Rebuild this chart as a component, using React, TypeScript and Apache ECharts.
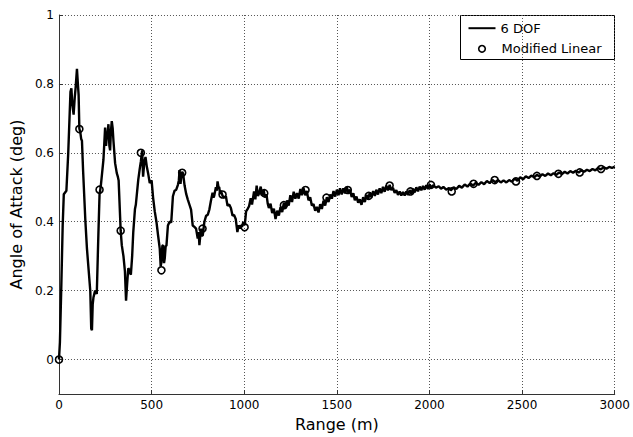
import React, { useEffect, useRef } from "react";
import * as echarts from "echarts";

// Range (m) / angle of attack (deg)
const dofRange: number[] = [
  0, 5, 12, 20, 26, 40, 50, 62, 67, 72, 79, 85, 90, 97, 102, 106, 110, 115, 120, 124, 130, 142, 151, 160, 169, 174, 178, 182, 186, 195,
  204, 213, 219, 225, 240, 249, 254, 258, 263, 267, 272, 276, 280, 285, 290, 294, 303, 312, 318, 322, 333, 339, 348, 356, 362, 368, 374, 380, 388, 395,
  401, 410, 415, 428, 435, 442, 449, 454, 460, 467, 474, 481, 490, 500, 508, 517, 526, 535, 544, 549, 553, 558, 562, 567, 571, 576, 580, 588, 597, 606,
  615, 624, 633, 642, 647, 651, 656, 660, 665, 670, 678, 687, 695, 704, 713, 722, 731, 740, 749, 754, 758, 763, 767, 772, 776, 785, 794, 803, 812, 820,
  829, 834, 838, 847, 852, 856, 861, 865, 870, 874, 883, 892, 901, 910, 919, 928, 937, 945, 954, 963, 970, 976, 981, 988, 995, 1003, 1010, 1017, 1026,
  1035, 1042, 1053, 1060, 1067, 1074, 1080, 1089, 1096, 1105, 1112, 1120, 1127, 1133, 1142, 1151, 1160, 1169, 1178, 1187, 1196, 1205, 1214, 1222, 1231, 1240,
  1249, 1258, 1267, 1276, 1285, 1294, 1303, 1311, 1320, 1329, 1338, 1347, 1356, 1365, 1374, 1383, 1392, 1401, 1410, 1419, 1428, 1437, 1446, 1455, 1464, 1473,
  1482, 1491, 1500, 1509, 1517, 1526, 1535, 1544, 1553, 1562, 1571, 1580, 1589, 1597, 1606, 1615, 1624, 1633, 1642, 1651, 1660, 1669, 1678, 1687, 1696, 1705,
  1713, 1722, 1731, 1740, 1749, 1758, 1767, 1776, 1785, 1794, 1803, 1812, 1821, 1830, 1839, 1848, 1857, 1866, 1875, 1884, 1893, 1902, 1911, 1920, 1929, 1938,
  1947, 1956, 1965, 1974, 1983, 1992, 2001, 2010, 2020, 2035, 2050, 2062, 2075, 2090, 2105, 2115, 2130, 2145, 2160, 2175, 2190, 2205, 2220, 2235, 2250, 2265,
  2280, 2295, 2310, 2325, 2340, 2355, 2370, 2385, 2400, 2415, 2430, 2445, 2460, 2475, 2490, 2505, 2520, 2535, 2550, 2565, 2580, 2595, 2610, 2625, 2640, 2655,
  2670, 2685, 2700, 2715, 2730, 2745, 2760, 2775, 2790, 2805, 2820, 2835, 2850, 2865, 2880, 2895, 2910, 2925, 2940, 2955, 2970, 2985, 3000,
];

const dofAlpha: number[] = [
  0, 0.05, 0.2, 0.39, 0.48, 0.49, 0.6, 0.777, 0.787, 0.74, 0.711, 0.76, 0.79, 0.844, 0.8, 0.768, 0.67, 0.66, 0.64, 0.635, 0.55, 0.407, 0.322, 0.26, 0.199, 0.09, 0.085, 0.16, 0.18, 0.2,
  0.19, 0.37, 0.48, 0.5, 0.58, 0.673, 0.62, 0.645, 0.66, 0.683, 0.62, 0.607, 0.66, 0.692, 0.67, 0.635, 0.57, 0.541, 0.53, 0.52, 0.374, 0.332, 0.3, 0.256, 0.171, 0.22, 0.265, 0.26, 0.246, 0.3,
  0.37, 0.436, 0.45, 0.522, 0.55, 0.575, 0.607, 0.531, 0.57, 0.588, 0.56, 0.541, 0.512, 0.52, 0.47, 0.43, 0.4, 0.36, 0.322, 0.27, 0.284, 0.33, 0.332, 0.28, 0.294, 0.33, 0.33, 0.389, 0.4, 0.398,
  0.474, 0.49, 0.493, 0.507, 0.52, 0.55, 0.51, 0.53, 0.545, 0.54, 0.505, 0.48, 0.465, 0.45, 0.435, 0.389, 0.385, 0.38, 0.351, 0.37, 0.332, 0.36, 0.38, 0.36, 0.36, 0.4, 0.417, 0.42, 0.436, 0.46,
  0.484, 0.47, 0.475, 0.5, 0.49, 0.517, 0.5, 0.5, 0.48, 0.49, 0.475, 0.47, 0.474, 0.446, 0.45, 0.44, 0.417, 0.42, 0.408, 0.37, 0.39, 0.38, 0.39, 0.385, 0.4, 0.39, 0.43, 0.436, 0.445,
  0.468, 0.45, 0.488, 0.465, 0.505, 0.475, 0.482, 0.502, 0.476, 0.492, 0.47, 0.48, 0.452, 0.44, 0.452, 0.425, 0.438, 0.408, 0.432, 0.418, 0.443, 0.428, 0.455, 0.438, 0.462, 0.447,
  0.477, 0.457, 0.487, 0.467, 0.483, 0.467, 0.495, 0.477, 0.498, 0.477, 0.489, 0.462, 0.471, 0.447, 0.451, 0.432, 0.443, 0.427, 0.451, 0.437, 0.461, 0.447, 0.471, 0.457, 0.479, 0.467,
  0.489, 0.473, 0.493, 0.477, 0.497, 0.479, 0.497, 0.482, 0.501, 0.484, 0.493, 0.472, 0.483, 0.462, 0.473, 0.455, 0.465, 0.449, 0.471, 0.457, 0.478, 0.465, 0.485, 0.471, 0.489, 0.475,
  0.493, 0.479, 0.497, 0.483, 0.501, 0.487, 0.505, 0.491, 0.507, 0.492, 0.498, 0.484, 0.492, 0.478, 0.488, 0.476, 0.486, 0.476, 0.488, 0.478, 0.492, 0.481, 0.496, 0.485, 0.5, 0.488,
  0.502, 0.491, 0.504, 0.493, 0.506, 0.495, 0.508, 0.499, 0.506, 0.499, 0.503, 0.496, 0.501, 0.493, 0.498, 0.491, 0.5, 0.495, 0.504, 0.499, 0.508, 0.502, 0.511, 0.505, 0.513, 0.507,
  0.515, 0.509, 0.518, 0.512, 0.521, 0.515, 0.521, 0.514, 0.52, 0.514, 0.521, 0.516, 0.525, 0.519, 0.529, 0.523, 0.532, 0.527, 0.534, 0.529, 0.536, 0.531, 0.538, 0.533, 0.54, 0.535,
  0.541, 0.536, 0.543, 0.538, 0.545, 0.54, 0.547, 0.542, 0.548, 0.543, 0.549, 0.545, 0.551, 0.547, 0.553, 0.549, 0.556, 0.552, 0.558, 0.554, 0.559, 0.556, 0.56,
];

const linRange: number[] = [
  0, 110, 219, 333, 442, 553, 665, 775, 883, 1002, 1108, 1214, 1331, 1444, 1559, 1672, 1785, 1897, 2008, 2120, 2238, 2352, 2467, 2580, 2696, 2811, 2926,
];
const linAlpha: number[] = [
  0, 0.669, 0.493, 0.374, 0.6, 0.259, 0.542, 0.38, 0.479, 0.384, 0.483, 0.448, 0.492, 0.47, 0.492, 0.475, 0.505, 0.488, 0.507, 0.488, 0.51, 0.521, 0.517, 0.533, 0.539, 0.543, 0.553,
];

const xTicks: number[] = [0, 500, 1000, 1500, 2000, 2500, 3000];
const yTicks: number[] = [0, 0.2, 0.4, 0.6, 0.8, 1];

const seriesNames = ["6 DOF", "Modified Linear"];
const xTitle = "Range (m)";
const yTitle = "Angle of Attack (deg)";

const FONT = "DejaVu Sans";

export default function App() {
  const ref = useRef<HTMLDivElement>(null);
  useEffect(() => {
    if (!ref.current) return;
    const chart = echarts.init(ref.current, undefined, { renderer: "svg" });
    const dof = dofRange.map((x, i) => [x, dofAlpha[i]]);
    const lin = linRange.map((x, i) => [x, linAlpha[i]]);
    const gridLine = { show: true, lineStyle: { color: "#555", width: 1, type: [1, 2] as any } };
    chart.setOption({
      animation: false,
      backgroundColor: "#fff",
      textStyle: { fontFamily: FONT },
      grid: { left: 58, top: 15, width: 561, height: 383, containLabel: false },
      legend: { show: false, data: seriesNames },
      graphic: [
        {
          type: "group",
          left: 460,
          top: 15,
          children: [
            { type: "rect", shape: { x: 0, y: 0, width: 154, height: 44 }, style: { fill: "#fff", stroke: "#000", lineWidth: 1 } },
            { type: "line", shape: { x1: 8, y1: 12.7, x2: 35, y2: 12.7 }, style: { stroke: "#000", lineWidth: 2 } },
            { type: "text", x: 40, y: 12.7, style: { text: seriesNames[0], font: `13px '${FONT}'`, fill: "#000", verticalAlign: "middle" } },
            { type: "circle", shape: { cx: 21.5, cy: 33.3, r: 3.3 }, style: { fill: "none", stroke: "#000", lineWidth: 1.6 } },
            { type: "text", x: 41, y: 33.3, style: { text: seriesNames[1], font: `13px '${FONT}'`, fill: "#000", verticalAlign: "middle" } },
          ],
        },
      ],
      xAxis: {
        type: "value",
        min: xTicks[0],
        max: xTicks[xTicks.length - 1],
        interval: xTicks[1] - xTicks[0],
        name: xTitle,
        nameLocation: "middle",
        nameGap: 22,
        nameTextStyle: { fontFamily: FONT, fontSize: 16, color: "#000" },
        axisLine: { show: true, onZero: false, lineStyle: { color: "#333", width: 1 } },
        axisTick: { show: true, inside: true, length: 4, lineStyle: { color: "#333" } },
        axisLabel: { margin: 5, fontFamily: FONT, fontSize: 12, color: "#000", formatter: (v: number) => String(v) },
        splitLine: gridLine,
      },
      yAxis: {
        type: "value",
        min: -0.1,
        max: 1,
        splitNumber: 5,
        name: yTitle,
        nameLocation: "middle",
        nameGap: 33,
        nameRotate: 90,
        nameTextStyle: { fontFamily: FONT, fontSize: 16, color: "#000" },
        axisLine: { show: true, onZero: false, lineStyle: { color: "#333", width: 1 } },
        axisTick: { show: true, inside: true, length: 4, lineStyle: { color: "#333" } },
        axisLabel: {
          margin: 5,
          fontFamily: FONT,
          fontSize: 12,
          color: "#000",
          formatter: (v: number) => {
            const t = yTicks.find((k) => Math.abs(k - v) < 1e-6);
            return t === undefined ? "" : String(t);
          },
        },
        splitLine: gridLine,
      },
      series: [
        {
          name: seriesNames[0],
          type: "line",
          data: dof,
          symbol: "none",
          lineStyle: { color: "#000", width: 2.4 },
          itemStyle: { color: "#000" },
          z: 2,
        },
        {
          name: seriesNames[1],
          type: "line",
          data: lin,
          symbol: "circle",
          symbolSize: 7,
          showSymbol: true,
          lineStyle: { width: 0, opacity: 0 },
          itemStyle: { color: "rgba(255,255,255,0)", borderColor: "#000", borderWidth: 1.6 },
          z: 3,
        },
      ],
    });
    return () => chart.dispose();
  }, []);
  return <div ref={ref} style={{ position: "absolute", left: 0, top: 0, width: 633, height: 437 }} />;
}
